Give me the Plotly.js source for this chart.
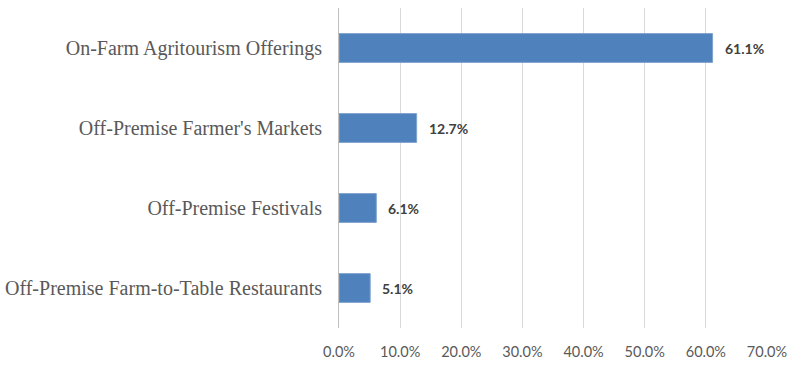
<!DOCTYPE html>
<html>
<head>
<meta charset="utf-8">
<script src="https://cdn.plot.ly/plotly-3.0.1.min.js"></script>
<style>html,body{margin:0;padding:0;background:#fff;}#chart{width:800px;height:367px;}</style>
</head>
<body>
<div id="chart"></div>
<script>
const categories = ["On-Farm Agritourism Offerings", "Off-Premise Farmer's Markets", "Off-Premise Festivals", "Off-Premise Farm-to-Table Restaurants"];
const values = [0.611, 0.127, 0.061, 0.051];
const labels = ["61.1%", "12.7%", "6.1%", "5.1%"];
const tickVals = [0, 0.1, 0.2, 0.3, 0.4, 0.5, 0.6, 0.7];
const tickText = ["0.0%", "10.0%", "20.0%", "30.0%", "40.0%", "50.0%", "60.0%", "70.0%"];

const trace = {
  type: 'bar',
  orientation: 'h',
  x: values,
  y: categories,
  marker: {color: '#4F81BD', line: {color: '#7FA3CF', width: 1}},
  width: 0.36,
  hoverinfo: 'none'
};

const annotations = values.map((v, i) => ({
  x: v, y: categories[i], xref: 'x', yref: 'y',
  text: labels[i], showarrow: false,
  xanchor: 'left', yanchor: 'middle', xshift: 10,
  font: {family: 'Lato, "Open Sans", sans-serif', size: 14, color: '#404040', weight: 'bold'}
}));

const layout = {
  width: 800, height: 367,
  margin: {l: 339, r: 33, t: 8, b: 39},
  paper_bgcolor: '#ffffff', plot_bgcolor: '#ffffff',
  showlegend: false,
  annotations: annotations,
  xaxis: {
    range: [0, 0.7],
    tickvals: tickVals, ticktext: tickText,
    showgrid: true, gridcolor: '#D9D9D9', gridwidth: 1,
    zeroline: false, showline: false,
    ticks: '',
    tickfont: {family: 'Lato, "Open Sans", sans-serif', size: 14.5, color: '#595959'},
    ticklabelstandoff: 13
  },
  yaxis: {
    autorange: 'reversed',
    showline: true, linecolor: '#BFBFBF', linewidth: 1,
    ticks: '',
    tickfont: {family: '"Liberation Serif", "Times New Roman", serif', size: 20, color: '#595959'},
    ticklabelstandoff: 12
  }
};

Plotly.newPlot('chart', [trace], layout, {staticPlot: true, displayModeBar: false});
</script>
</body>
</html>
